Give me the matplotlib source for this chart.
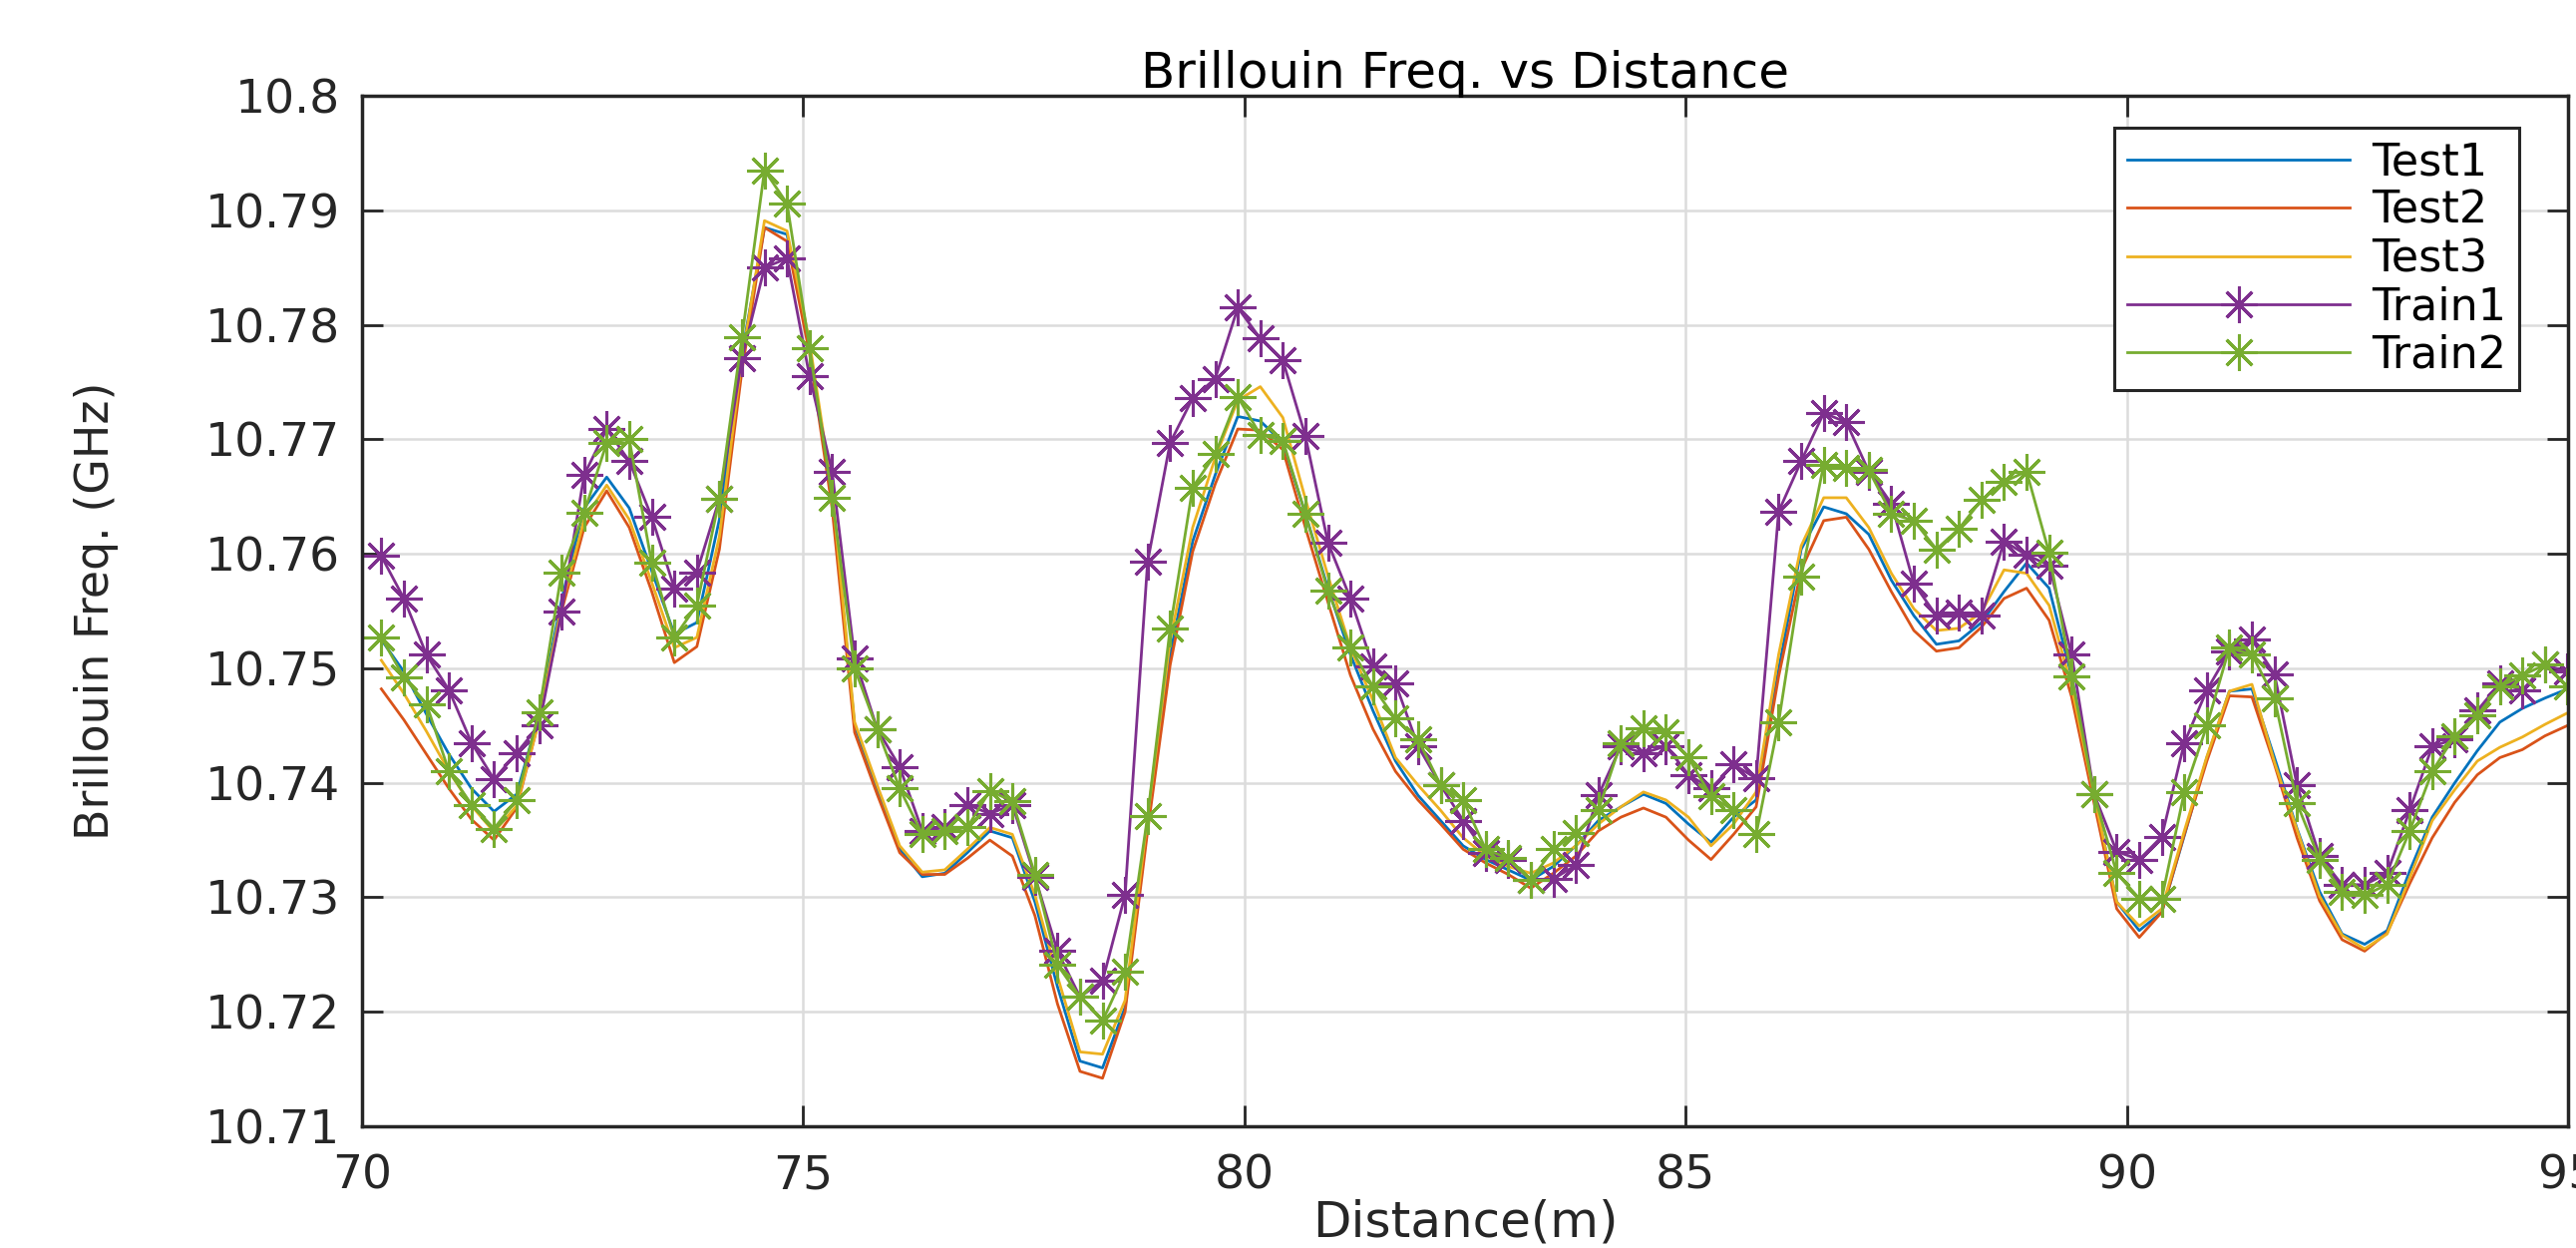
import numpy as np
import matplotlib
matplotlib.use("Agg")
from matplotlib import pyplot as plt
from matplotlib.ticker import FormatStrFormatter

# distance samples (m), one every ~0.255 m
dist = 70.22 + 0.2554 * np.arange(98)

test1 = [10.7525, 10.7497, 10.7460, 10.7425, 10.7395, 10.7375, 10.7390, 10.7460, 10.7560, 10.7640,
         10.7667, 10.7640, 10.7585, 10.7530, 10.7540, 10.7630, 10.7775, 10.7885, 10.7879, 10.7780,
         10.7650, 10.7450, 10.7395, 10.7342, 10.7318, 10.7321, 10.7339, 10.7358, 10.7352, 10.7296,
         10.7222, 10.7157, 10.7151, 10.7204, 10.7364, 10.7512, 10.7611, 10.7669, 10.7720, 10.7716,
         10.7697, 10.7635, 10.7570, 10.7512, 10.7463, 10.7419, 10.7389, 10.7367, 10.7345, 10.7333,
         10.7324, 10.7315, 10.7327, 10.7345, 10.7367, 10.7379, 10.7390, 10.7382, 10.7364, 10.7348,
         10.7370, 10.7385, 10.7499, 10.7604, 10.7641, 10.7635, 10.7617, 10.7577, 10.7546, 10.7521,
         10.7524, 10.7540, 10.7567, 10.7592, 10.7570, 10.7493, 10.7389, 10.7296, 10.7271, 10.7287,
         10.7354, 10.7422, 10.7480, 10.7482, 10.7422, 10.7360, 10.7305, 10.7268, 10.7259, 10.7271,
         10.7323, 10.7370, 10.7400, 10.7428, 10.7453, 10.7465, 10.7474, 10.7482]

test2 = [10.7482, 10.7455, 10.7425, 10.7395, 10.7368, 10.7350, 10.7378, 10.7455, 10.7550, 10.7623,
         10.7655, 10.7623, 10.7567, 10.7505, 10.7519, 10.7604, 10.7760, 10.7885, 10.7873, 10.7775,
         10.7640, 10.7444, 10.7390, 10.7339, 10.7320, 10.7320, 10.7334, 10.7350, 10.7336, 10.7284,
         10.7207, 10.7148, 10.7142, 10.7200, 10.7358, 10.7503, 10.7602, 10.7661, 10.7709, 10.7708,
         10.7691, 10.7623, 10.7558, 10.7494, 10.7447, 10.7410, 10.7385, 10.7364, 10.7342, 10.7330,
         10.7320, 10.7308, 10.7321, 10.7336, 10.7358, 10.7370, 10.7378, 10.7370, 10.7350, 10.7333,
         10.7355, 10.7379, 10.7493, 10.7586, 10.7629, 10.7632, 10.7604, 10.7567, 10.7533, 10.7515,
         10.7518, 10.7536, 10.7561, 10.7570, 10.7542, 10.7475, 10.7382, 10.7290, 10.7265, 10.7287,
         10.7355, 10.7419, 10.7476, 10.7475, 10.7416, 10.7352, 10.7297, 10.7263, 10.7253, 10.7269,
         10.7312, 10.7352, 10.7383, 10.7407, 10.7422, 10.7429, 10.7441, 10.7450]

test3 = [10.7507, 10.7478, 10.7445, 10.7410, 10.7380, 10.7357, 10.7380, 10.7455, 10.7555, 10.7630,
         10.7660, 10.7630, 10.7575, 10.7518, 10.7527, 10.7615, 10.7770, 10.7891, 10.7882, 10.7785,
         10.7655, 10.7453, 10.7398, 10.7345, 10.7322, 10.7324, 10.7342, 10.7361, 10.7355, 10.7302,
         10.7231, 10.7165, 10.7163, 10.7210, 10.7370, 10.7524, 10.7623, 10.7684, 10.7734, 10.7746,
         10.7719, 10.7648, 10.7581, 10.7518, 10.7472, 10.7422, 10.7398, 10.7376, 10.7352, 10.7336,
         10.7327, 10.7321, 10.7330, 10.7345, 10.7364, 10.7379, 10.7392, 10.7385, 10.7370, 10.7345,
         10.7364, 10.7392, 10.7512, 10.7607, 10.7649, 10.7649, 10.7623, 10.7583, 10.7552, 10.7533,
         10.7535, 10.7549, 10.7586, 10.7583, 10.7555, 10.7484, 10.7389, 10.7296, 10.7275, 10.7290,
         10.7358, 10.7423, 10.7480, 10.7486, 10.7418, 10.7359, 10.7301, 10.7267, 10.7255, 10.7268,
         10.7317, 10.7367, 10.7394, 10.7419, 10.7431, 10.7440, 10.7451, 10.7461]

train1 = [10.7598, 10.7561, 10.7512, 10.7481, 10.7435, 10.7403, 10.7426, 10.7450, 10.7550, 10.7669,
          10.7709, 10.7681, 10.7632, 10.7570, 10.7584, 10.7648, 10.7771, 10.7850, 10.7858, 10.7755,
          10.7672, 10.7509, 10.7447, 10.7414, 10.7358, 10.7361, 10.7381, 10.7373, 10.7381, 10.7318,
          10.7253, 10.7213, 10.7227, 10.7302, 10.7593, 10.7697, 10.7736, 10.7753, 10.7815, 10.7788,
          10.7769, 10.7703, 10.7610, 10.7561, 10.7502, 10.7487, 10.7432, 10.7398, 10.7367, 10.7339,
          10.7333, 10.7315, 10.7316, 10.7328, 10.7389, 10.7432, 10.7426, 10.7432, 10.7407, 10.7395,
          10.7416, 10.7404, 10.7637, 10.7681, 10.7723, 10.7715, 10.7672, 10.7644, 10.7574, 10.7546,
          10.7549, 10.7546, 10.7611, 10.7599, 10.7590, 10.7512, 10.7390, 10.7340, 10.7333, 10.7353,
          10.7435, 10.7481, 10.7515, 10.7525, 10.7495, 10.7398, 10.7336, 10.7311, 10.7311, 10.7321,
          10.7376, 10.7432, 10.7438, 10.7463, 10.7487, 10.7481, 10.7503, 10.7497]

train2 = [10.7527, 10.7492, 10.7469, 10.7410, 10.7381, 10.7360, 10.7385, 10.7462, 10.7584, 10.7636,
          10.7697, 10.7700, 10.7592, 10.7527, 10.7555, 10.7648, 10.7789, 10.7935, 10.7906, 10.7780,
          10.7649, 10.7500, 10.7447, 10.7395, 10.7355, 10.7358, 10.7361, 10.7393, 10.7384, 10.7320,
          10.7241, 10.7213, 10.7192, 10.7235, 10.7371, 10.7535, 10.7658, 10.7687, 10.7737, 10.7704,
          10.7699, 10.7635, 10.7568, 10.7518, 10.7484, 10.7456, 10.7438, 10.7398, 10.7385, 10.7342,
          10.7334, 10.7315, 10.7342, 10.7356, 10.7376, 10.7435, 10.7448, 10.7444, 10.7422, 10.7388,
          10.7376, 10.7355, 10.7453, 10.7580, 10.7678, 10.7675, 10.7673, 10.7635, 10.7629, 10.7604,
          10.7622, 10.7647, 10.7663, 10.7672, 10.7601, 10.7493, 10.7390, 10.7321, 10.7299, 10.7299,
          10.7392, 10.7450, 10.7518, 10.7512, 10.7474, 10.7382, 10.7333, 10.7305, 10.7302, 10.7311,
          10.7358, 10.7410, 10.7441, 10.7459, 10.7484, 10.7494, 10.7503, 10.7484]

x_ticks = [70, 75, 80, 85, 90, 95]
y_ticks = [10.71, 10.72, 10.73, 10.74, 10.75, 10.76, 10.77, 10.78, 10.79, 10.8]

plt.rcParams['font.family'] = ['DejaVu Sans']
dark = '#262626'

fig = plt.figure(figsize=(25.83, 12.51), dpi=100)
ax = fig.add_axes([0.1405, 0.0975, 0.8564, 0.8257])

lw = 2.0
ax.plot(dist, test1, color='#0072BD', lw=lw, label='Test1')
ax.plot(dist, test2, color='#D95319', lw=lw, label='Test2')
ax.plot(dist, test3, color='#EDB120', lw=lw, label='Test3')
ax.plot(dist, train1, color='#7E2F8E', lw=lw, marker=(8, 2, 0), ms=26, mew=2.2, label='Train1')
ax.plot(dist, train2, color='#77AC30', lw=lw, marker=(8, 2, 0), ms=26, mew=2.2, label='Train2')

ax.set_xlim(70, 95)
ax.set_ylim(10.71, 10.8)
ax.set_xticks(x_ticks)
ax.set_yticks(y_ticks)
ax.yaxis.set_major_formatter(FormatStrFormatter('%g'))

ax.grid(True, color='#dcdcdc', lw=1.8)
ax.set_axisbelow(True)
ax.tick_params(direction='in', length=15, width=2, colors=dark, labelsize=34,
               top=True, right=True)
ax.tick_params(axis='x', pad=20)
ax.tick_params(axis='y', pad=16)
for s in ax.spines.values():
    s.set_color(dark)
    s.set_linewidth(2.5)

ax.set_title('Brillouin Freq. vs Distance', fontsize=36, color='black', pad=6)
ax.set_xlabel('Distance(m)', fontsize=36, color=dark, labelpad=0)
ax.set_ylabel('Brillouin Freq. (GHz)', fontsize=33, color=dark, labelpad=62)

leg = ax.legend(loc='upper right', bbox_to_anchor=(0.978, 0.969), fontsize=32,
                fancybox=False, framealpha=1, edgecolor=dark,
                handlelength=5.0, handletextpad=0.5, labelspacing=0.12,
                borderpad=0.3, borderaxespad=0, markerscale=1.0)
leg.get_frame().set_linewidth(2.2)

fig.savefig('out.png', dpi=100)
